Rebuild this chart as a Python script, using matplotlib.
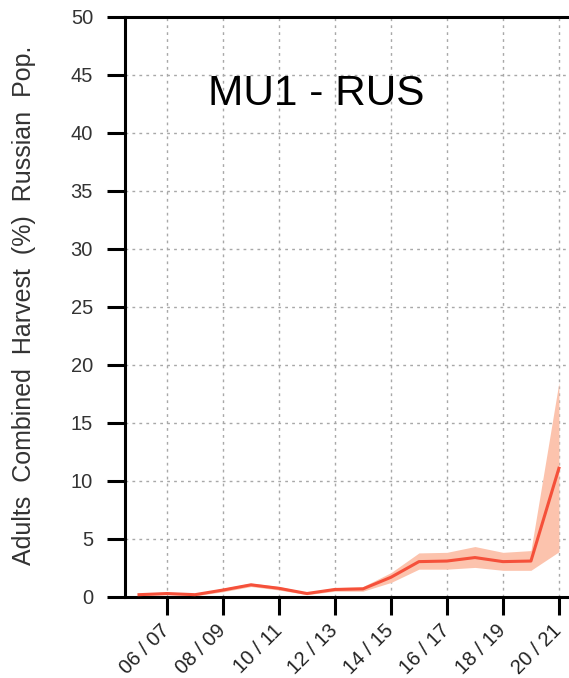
import matplotlib
matplotlib.use("Agg")
import matplotlib.pyplot as plt
import numpy as np

plt.rcParams["font.family"] = ["Liberation Sans", "DejaVu Sans"]

# harvest estimate per season, 05/06 .. 20/21
seasons = ["05 / 06", "06 / 07", "07 / 08", "08 / 09", "09 / 10", "10 / 11", "11 / 12", "12 / 13",
           "13 / 14", "14 / 15", "15 / 16", "16 / 17", "17 / 18", "18 / 19", "19 / 20", "20 / 21"]
harvest = [0.2, 0.3, 0.2, 0.6, 1.05, 0.75, 0.3, 0.65, 0.7, 1.7, 3.05, 3.1, 3.4, 3.05, 3.1, 11.1]
lower = [0.1, 0.2, 0.1, 0.45, 0.9, 0.6, 0.2, 0.5, 0.5, 1.25, 2.4, 2.4, 2.55, 2.3, 2.3, 3.9]
upper = [0.3, 0.4, 0.3, 0.75, 1.2, 0.9, 0.4, 0.8, 0.9, 2.1, 3.8, 3.85, 4.35, 3.85, 4.0, 18.5]
yticks = [0, 5, 10, 15, 20, 25, 30, 35, 40, 45, 50]

x = np.arange(len(seasons))

fig = plt.figure(figsize=(5.69, 6.78), dpi=100)
ax = fig.add_axes([125 / 569, 81 / 678, 1 - 125 / 569, 580 / 678])

ax.fill_between(x, lower, upper, color="#fcc3ad", lw=0, zorder=2)
ax.plot(x, harvest, color="#f5503a", lw=2.2, zorder=3)

ax.set_xlim(-0.5, 15.36)
ax.set_ylim(0, 50)
ax.set_xticks(x[1::2])
ax.set_xticklabels(seasons[1::2], rotation=45, ha="right", va="center",
                   rotation_mode="anchor", fontsize=14.5, color="#222222")
ax.set_yticks(yticks)
ax.set_yticklabels([str(v) for v in yticks], fontsize=14.5, color="#333333")

ax.grid(True, color="#a8a8a8", ls=(0, (2, 3)), lw=1.0, zorder=1)
ax.tick_params(axis="both", direction="out", length=13, width=2.2, color="black")
ax.tick_params(axis="y", pad=10)
ax.tick_params(axis="x", pad=9)
for side in ["left", "bottom", "top"]:
    ax.spines[side].set_linewidth(2.2)
ax.spines["right"].set_visible(False)

ax.set_ylabel("Adults  Combined  Harvest  (%)  Russian  Pop.", fontsize=18,
              color="#333333", va="center")
ax.yaxis.set_label_coords(-0.227, 0.503)
ax.text(0.43, 0.848, "MU1 - RUS", transform=ax.transAxes, ha="center", va="baseline",
        fontsize=30.5, color="black")

fig.savefig("out.png", dpi=100, facecolor="white")
